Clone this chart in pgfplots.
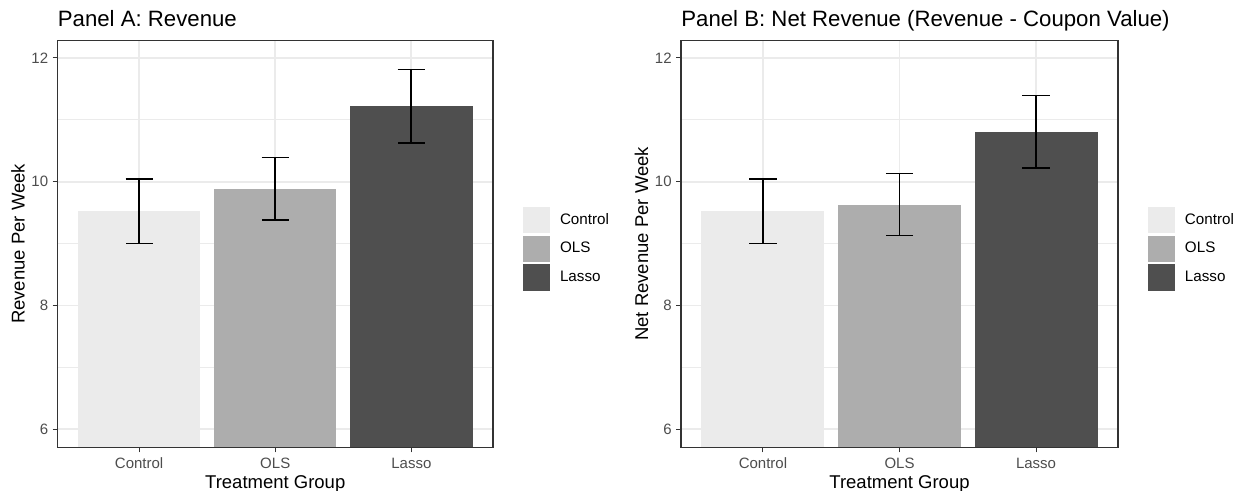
\documentclass[border=0pt]{standalone}
\usepackage{fontspec}
\setmainfont{Liberation Sans}
\usepackage{pgfplots}
\pgfplotsset{compat=1.18}
\definecolor{ctrl}{HTML}{EBEBEB}
\definecolor{ols}{HTML}{ADADAD}
\definecolor{lasso}{HTML}{4F4F4F}
\definecolor{gridc}{HTML}{EBEBEB}
\definecolor{borderc}{HTML}{333333}
\definecolor{tickc}{HTML}{4D4D4D}
\pgfplotsset{
  panel/.style={
    scale only axis, height=203.4pt,
    xmin=0.4, xmax=3.6, ymin=5.71, ymax=12.28,
    xtick={1,2,3}, xticklabels={Control,OLS,Lasso},
    ytick={6,8,10,12}, minor ytick={7,9,11},
    xmajorgrids, ymajorgrids, yminorgrids,
    major grid style={gridc, line width=0.9pt},
    minor grid style={gridc, line width=0.5pt},
    axis line style={borderc, line width=0.55pt},
    tick style={borderc, line width=0.55pt},
    major tick length=2.5pt, minor tick length=0pt,
    tick align=outside, tick pos=left,
    ticklabel style={font=\fontsize{7.5}{8}\selectfont, text=tickc},
    xticklabel style={inner sep=0pt, anchor=north, yshift=-2.5pt},
    yticklabel style={inner sep=0pt, anchor=east, xshift=-2pt},
    /pgf/number format/assume math mode=true,
    every axis title/.style={at={(axis description cs:0,1.0356)}, anchor=base west, inner sep=0pt, font=\fontsize{11.1}{13}\selectfont},
    every axis x label/.style={at={(axis description cs:0.5,-0.0902)}, anchor=center, font=\fontsize{9.25}{11}\selectfont},
    every axis y label/.style={at={(axis description cs:-0.0905,0.5)}, rotate=90, anchor=center, font=\fontsize{9.25}{11}\selectfont},
    xlabel={Treatment Group},
    ybar, bar width=0.9,
    error bars/y dir=both, error bars/y explicit,
    error bars/error bar style={black, line width=0.85pt},
    error bars/error mark options={black, line width=0.85pt, mark size=6.8pt, rotate=90},
    legend cell align=left,
    legend style={draw=none, fill=none, anchor=west, inner sep=0pt, outer sep=0pt,
      row sep=1.1pt, column sep=5pt, font=\fontsize{7.6}{8}\selectfont,
      nodes={inner sep=0pt}},
    legend image code/.code={\fill[#1, draw=none] (0pt,-6.65pt) rectangle (13.5pt,6.65pt);},
  }
}
\begin{document}
\begin{tikzpicture}
\useasboundingbox (0,0) rectangle (620pt,245.5pt);
% Panel A
\begin{axis}[panel, width=217.75pt, at={(28.75pt,21.85pt)}, anchor=south west,
  title={Panel A: Revenue}, ylabel={Revenue Per Week},
  legend style={at={(axis description cs:1.0689,0.4875)}}]
\addplot[fill=ctrl, draw=none, bar shift=0pt] coordinates {(1,9.52) +- (0,0.52)};
\addplot[fill=ols, draw=none, bar shift=0pt] coordinates {(2,9.885) +- (0,0.505)};
\addplot[fill=lasso, draw=none, bar shift=0pt] coordinates {(3,11.22) +- (0,0.59)};
\legend{Control,OLS,Lasso}
\draw[borderc, line width=0.55pt] (rel axis cs:0,0) rectangle (rel axis cs:1,1);
\end{axis}
% Panel B
\begin{axis}[panel, width=218.5pt, at={(340.5pt,21.85pt)}, anchor=south west,
  title={Panel B: Net Revenue (Revenue - Coupon Value)}, ylabel={Net Revenue Per Week},
  legend style={at={(axis description cs:1.0686,0.4875)}}]
\addplot[fill=ctrl, draw=none, bar shift=0pt] coordinates {(1,9.52) +- (0,0.52)};
\addplot[fill=ols, draw=none, bar shift=0pt] coordinates {(2,9.63) +- (0,0.5)};
\addplot[fill=lasso, draw=none, bar shift=0pt] coordinates {(3,10.805) +- (0,0.585)};
\legend{Control,OLS,Lasso}
\draw[borderc, line width=0.55pt] (rel axis cs:0,0) rectangle (rel axis cs:1,1);
\end{axis}
\end{tikzpicture}
\end{document}
